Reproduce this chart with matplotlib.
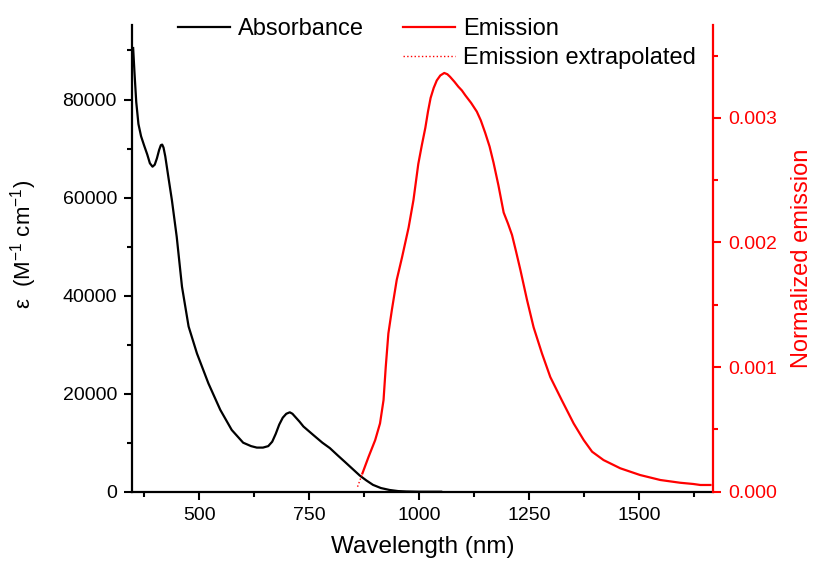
import numpy as np
import matplotlib.pyplot as plt
from matplotlib.ticker import MultipleLocator, FormatStrFormatter
from matplotlib.lines import Line2D

plt.rcParams["font.family"] = ["Liberation Sans", "DejaVu Sans"]
plt.rcParams["mathtext.fontset"] = "custom"
plt.rcParams["mathtext.rm"] = "Liberation Sans"
plt.rcParams["mathtext.it"] = "Liberation Sans"

# absorbance, molar extinction (M^-1 cm^-1)
abs_wl = [350, 353, 357, 362, 368, 375, 382, 388, 394, 399, 404, 409, 413,
          416, 419, 423, 430, 438, 449, 461, 476, 495, 521, 548, 574, 600,
          618, 631, 645, 657, 666, 674, 682, 690, 698, 706, 712, 718, 728,
          737, 759, 780, 797, 815, 831, 848, 865, 880, 895, 913, 933, 952,
          971, 1000, 1050]
abs_eps = [90500, 85500, 79500, 75000, 72500, 70600, 68800, 67000, 66300,
           66700, 68000, 69700, 70700, 70800, 70200, 68400, 64200, 59500,
           52000, 41800, 33700, 28200, 22100, 16700, 12600, 10000, 9300, 9000,
           9000, 9300, 10200, 11800, 13700, 15100, 15900, 16200, 15900,
           15300, 14300, 13300, 11600, 10000, 8900, 7400, 6100, 4700, 3300,
           2300, 1400, 750, 350, 130, 50, 0, 0]

# emission (normalized)
em_wl = [871, 885, 900, 911, 919, 924, 930, 938, 949, 961, 976, 987, 998,
         1006, 1014, 1020, 1026, 1033, 1040, 1048, 1057, 1064, 1070, 1080,
         1089, 1097, 1105, 1118, 1131, 1140, 1150, 1160, 1169, 1180, 1192,
         1202, 1211, 1220, 1230, 1245, 1260, 1279, 1298, 1324, 1351, 1374,
         1393, 1419, 1457, 1502, 1548, 1593, 1623, 1639, 1662]
em_val = [0.000147, 0.000280, 0.000414, 0.000548, 0.000735, 0.00100,
          0.00127, 0.00146, 0.00170, 0.00188, 0.00212, 0.00234, 0.00263,
          0.00278, 0.00292, 0.00305, 0.00316, 0.00324, 0.00330, 0.00334,
          0.00336, 0.00335, 0.00333, 0.00329, 0.00325, 0.00322, 0.00318,
          0.00312, 0.00305, 0.00298, 0.00288, 0.00277, 0.00264, 0.00246,
          0.00224, 0.00215, 0.00206, 0.00193, 0.00178, 0.00154, 0.00132,
          0.00111, 0.00092, 0.000735, 0.000548, 0.000414, 0.000321,
          0.000254, 0.000188, 0.000134, 0.000094, 0.000072, 0.000062,
          0.000054, 0.000054]

# extrapolated emission tail
ext_wl = [860, 871]
ext_val = [0.00004, 0.000147]

fig = plt.figure(figsize=(8.13, 5.68), dpi=100)
ax = fig.add_axes([0.1627, 0.1343, 0.7139, 0.8217])
ax2 = ax.twinx()

ax.plot(abs_wl, abs_eps, color="black", lw=1.6)
ax2.plot(em_wl, em_val, color="red", lw=1.6)
ax2.plot(ext_wl, ext_val, color="red", lw=1.0, ls=":")

ax.set_xlim(348, 1667)
ax.set_ylim(0, 95200)
ax2.set_ylim(0, 0.003745)

ax.xaxis.set_major_locator(MultipleLocator(250))
ax.xaxis.set_minor_locator(MultipleLocator(125))
ax.yaxis.set_major_locator(MultipleLocator(20000))
ax.yaxis.set_minor_locator(MultipleLocator(10000))
ax2.yaxis.set_major_locator(MultipleLocator(0.001))
ax2.yaxis.set_minor_locator(MultipleLocator(0.0005))
ax2.yaxis.set_major_formatter(FormatStrFormatter("%.3f"))

for a in (ax, ax2):
    a.spines["top"].set_visible(False)
    for s in a.spines.values():
        s.set_linewidth(1.6)
ax.spines["right"].set_visible(False)
ax2.spines["left"].set_visible(False)
ax2.spines["bottom"].set_visible(False)
ax2.spines["right"].set_color("red")

ax.tick_params(which="major", length=6, width=1.5, labelsize=14, pad=5,
               direction="out")
ax.tick_params(which="minor", length=3.5, width=1.5, direction="out")
ax2.tick_params(which="major", length=6, width=1.5, labelsize=14, pad=5,
                colors="red", direction="out")
ax2.tick_params(which="minor", length=3.5, width=1.5, colors="red",
                direction="out")

ax.set_xlabel("Wavelength (nm)", fontsize=17.5, labelpad=9)
ax.set_ylabel(r"ε  (M$^{-1}$ cm$^{-1}$)", fontsize=16)
ax.yaxis.set_label_coords(-0.16, 0.53)
ax2.set_ylabel("Normalized emission", fontsize=17, color="red", labelpad=10)

leg_kw = dict(frameon=False, fontsize=17, borderpad=0, borderaxespad=0,
              handlelength=2.2, handletextpad=0.35, labelspacing=0.3)
h1 = [Line2D([], [], color="black", lw=1.6)]
fig.legend(h1, ["Absorbance"], loc="upper left",
           bbox_to_anchor=(178 / 813, 1 - 18 / 568), **leg_kw)
h2 = [Line2D([], [], color="red", lw=1.6), Line2D([], [], color="red", lw=1.0, ls=":")]
fig.legend(h2, ["Emission", "Emission extrapolated"], loc="upper left",
           bbox_to_anchor=(403 / 813, 1 - 18 / 568), **leg_kw)

fig.savefig("out.png", dpi=100)
